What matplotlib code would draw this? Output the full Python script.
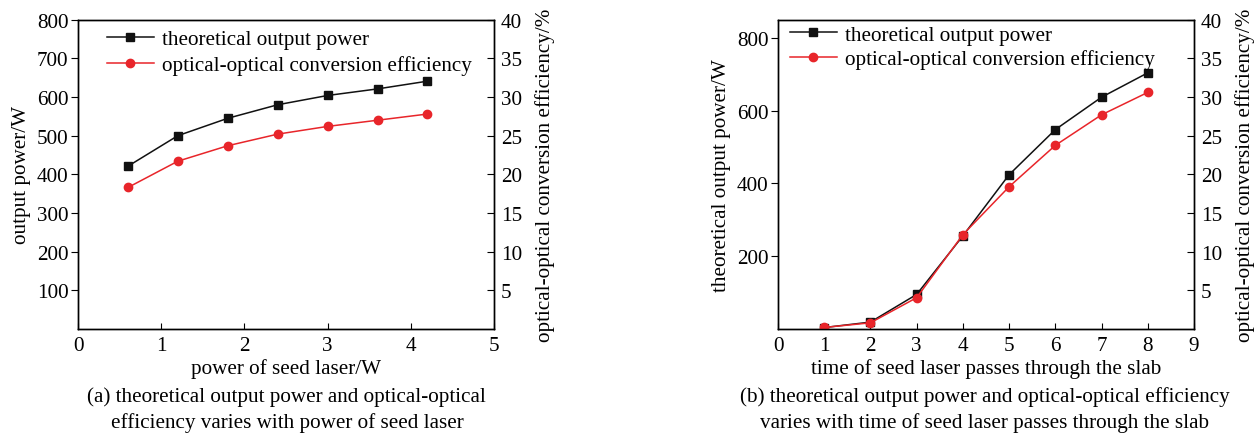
import matplotlib.pyplot as plt
import numpy as np

plt.rcParams['font.family'] = ['Liberation Serif', 'DejaVu Serif']
plt.rcParams['mathtext.fontset'] = 'stix'

# (a) power of seed laser
seed_power = np.array([0.6, 1.2, 1.8, 2.4, 3.0, 3.6, 4.2])
out_power_a = np.array([421, 500, 545, 580, 604, 621, 641])
eff_a = np.array([18.3, 21.7, 23.7, 25.2, 26.2, 27.0, 27.8])

# (b) passes through the slab
passes = np.array([1, 2, 3, 4, 5, 6, 7, 8])
out_power_b = np.array([4, 19, 95, 256, 424, 548, 637, 704])
eff_b = np.array([0.2, 0.8, 4.05, 12.2, 18.4, 23.75, 27.7, 30.6])

FS = 15.2
BLACK = '#111111'
RED = '#e8252a'

W, H = 1260, 435
fig = plt.figure(figsize=(W / 100, H / 100), dpi=100)


def panel(x0, xlim, xticks, ylim, yticks, x, yp, ye, xlabel, ylabel, leg_anchor, leg_space):
    ax = fig.add_axes([x0 / W, 105 / H, 416 / W, 309.3 / H])
    ax2 = ax.twinx()
    l1, = ax.plot(x, yp, color=BLACK, lw=1.1, marker='s', ms=5.5, label='theoretical output power')
    l2, = ax2.plot(x, ye, color=RED, lw=1.1, marker='o', ms=6, label='optical-optical conversion efficiency')
    ax.set_xlim(*xlim)
    ax.set_xticks(xticks)
    ax.set_ylim(*ylim)
    ax.set_yticks(yticks)
    ax2.set_ylim(0, 40)
    ax2.set_yticks([5, 10, 15, 20, 25, 30, 35, 40])
    ax.tick_params(axis='x', direction='in', length=4, labelsize=FS, pad=5)
    ax.tick_params(axis='y', direction='out', length=5, labelsize=FS, pad=2)
    ax2.tick_params(axis='y', direction='in', length=5, labelsize=FS, pad=5)
    ax.set_xlabel(xlabel, fontsize=FS, labelpad=2)
    ax.set_ylabel(ylabel, fontsize=FS, labelpad=4)
    ax2.set_ylabel('optical-optical conversion efficiency/%', fontsize=FS, labelpad=9)
    for a in (ax, ax2):
        for s in a.spines.values():
            s.set_linewidth(1.0)
    ax.legend([l1, l2], [l1.get_label(), l2.get_label()], loc='upper left',
              bbox_to_anchor=leg_anchor, frameon=False, fontsize=FS,
              borderpad=0, borderaxespad=0, handlelength=2.2,
              handletextpad=0.4, labelspacing=leg_space)
    return ax


panel(78, (0, 5), [0, 1, 2, 3, 4, 5], (0, 800), [100, 200, 300, 400, 500, 600, 700, 800],
      seed_power, out_power_a, eff_a, 'power of seed laser/W', 'output power/W',
      (0.07, 0.968), 0.28)
panel(778, (0, 9), list(range(10)), (0, 850), [200, 400, 600, 800],
      passes, out_power_b, eff_b, 'time of seed laser passes through the slab',
      'theoretical output power/W', (0.029, 0.983), 0.22)

fig.text(286 / W, 1 - 397 / H, '(a) theoretical output power and optical-optical',
         ha='center', va='center', fontsize=FS)
fig.text(287 / W, 1 - 423 / H, 'efficiency varies with power of seed laser',
         ha='center', va='center', fontsize=FS)
fig.text(985 / W, 1 - 397 / H, '(b) theoretical output power and optical-optical efficiency',
         ha='center', va='center', fontsize=FS)
fig.text(985 / W, 1 - 423 / H, 'varies with time of seed laser passes through the slab',
         ha='center', va='center', fontsize=FS)

fig.savefig('out.png', dpi=100)
